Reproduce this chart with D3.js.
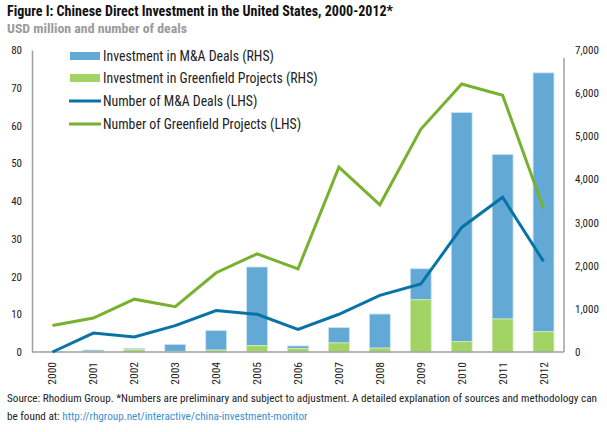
<!DOCTYPE html>
<html>
<head>
<meta charset="utf-8">
<script src="https://cdn.jsdelivr.net/npm/d3@7"></script>
<style>
  html, body { margin: 0; padding: 0; background: #fff; }
  svg text { font-family: "Liberation Sans Narrow", "Arial Narrow", "Roboto Condensed", "Liberation Sans", sans-serif; }
</style>
</head>
<body>
<svg id="chart" width="607" height="432"></svg>
<script>
const years = ["2000","2001","2002","2003","2004","2005","2006","2007","2008","2009","2010","2011","2012"];
// USD million (RHS)
const maInvestment = [0, 30, 30, 160, 450, 1825, 60, 355, 790, 720, 5310, 3815, 6000];
const greenfieldInvestment = [10, 15, 55, 15, 45, 145, 80, 210, 90, 1210, 240, 765, 470];
// number of deals (LHS)
const maDeals = [0, 5, 4, 7, 11, 10, 6, 10, 15, 18, 33, 41, 24];
const greenfieldDeals = [7, 9, 14, 12, 21, 26, 22, 49, 39, 59, 71, 68, 38];
const leftTicks = [0, 10, 20, 30, 40, 50, 60, 70, 80];
const rightTicks = [0, 1000, 2000, 3000, 4000, 5000, 6000, 7000];
const legendLabels = ["Investment in M&A Deals (RHS)", "Investment in Greenfield Projects (RHS)", "Number of M&A Deals (LHS)", "Number of Greenfield Projects (LHS)"];

const C = { maBar: "#62a9d6", gfBar: "#a1d465", maLine: "#0873a7", gfLine: "#78b12e", axis: "#a0a0a0" };

const svg = d3.select("#chart");
const pL = 32, pR = 564, pT = 50, pB = 352;

const x = d3.scaleBand().domain(years).range([pL, pR]).paddingInner(0.49).paddingOuter(0.245);
const yL = d3.scaleLinear().domain([0, 80]).range([pB, pT]);
const yR = d3.scaleLinear().domain([0, 7000]).range([pB, pT]);

// Title
svg.append("text").attr("x", 7).attr("y", 16).attr("font-size", 15).attr("font-weight", "bold").attr("fill", "#111")
  .attr("textLength", 386).attr("lengthAdjust", "spacingAndGlyphs")
  .text("Figure I: Chinese Direct Investment in the United States, 2000-2012*");
svg.append("text").attr("x", 7).attr("y", 33).attr("font-size", 13).attr("font-weight", "bold").attr("fill", "#9a9a9a")
  .attr("textLength", 180).attr("lengthAdjust", "spacingAndGlyphs")
  .text("USD million and number of deals");

// Bars (stacked: greenfield bottom, M&A top)
const bars = svg.append("g");
years.forEach((yr, i) => {
  const g0 = greenfieldInvestment[i], m = maInvestment[i];
  bars.append("rect").attr("x", x(yr)).attr("width", x.bandwidth())
    .attr("y", yR(g0 + m)).attr("height", yR(g0) - yR(g0 + m))
    .attr("fill", C.maBar).attr("stroke", "#c9e2f2").attr("stroke-width", 0.8);
  bars.append("rect").attr("x", x(yr)).attr("width", x.bandwidth())
    .attr("y", yR(g0)).attr("height", yR(0) - yR(g0))
    .attr("fill", C.gfBar).attr("stroke", "#d3ecb8").attr("stroke-width", 0.8);
});

// Axes
const axL = svg.append("g").attr("transform", `translate(${pL},0)`)
  .call(d3.axisLeft(yL).tickValues(leftTicks).tickSize(0).tickPadding(10));
axL.select(".domain").attr("stroke", C.axis).attr("stroke-width", 1.5);
axL.selectAll("text").attr("font-size", 11).attr("fill", "#222");

const axR = svg.append("g").attr("transform", `translate(${pR},0)`)
  .call(d3.axisRight(yR).tickValues(rightTicks).tickSize(0).tickPadding(11).tickFormat(d3.format(",")));
axR.select(".domain").attr("stroke", C.axis).attr("stroke-width", 1.5).attr("d", `M0,${pT + 8}V${pB}`);
axR.selectAll("text").attr("font-size", 11).attr("fill", "#222");

const axB = svg.append("g").attr("transform", `translate(0,${pB})`)
  .call(d3.axisBottom(x).tickSize(0).tickPadding(0));
axB.select(".domain").attr("stroke", C.axis).attr("stroke-width", 1.5).attr("d", `M${pL},0H${pR}`);
axB.selectAll("text").attr("font-size", 11.5).attr("fill", "#222")
  .attr("transform", "rotate(-90)").attr("text-anchor", "end").attr("dy", "0.35em").attr("x", -10).attr("y", 0);

// Lines
const px = i => x(years[i]) + x.bandwidth() / 2;
const lineL = d3.line().x((d, i) => px(i)).y(d => yL(d));
svg.append("path").datum(greenfieldDeals).attr("d", lineL).attr("fill", "none")
  .attr("stroke", C.gfLine).attr("stroke-width", 3).attr("stroke-linejoin", "miter");
svg.append("path").datum(maDeals).attr("d", lineL).attr("fill", "none")
  .attr("stroke", C.maLine).attr("stroke-width", 3).attr("stroke-linejoin", "miter");

// Legend
const lg = svg.append("g");
const rowY = [56, 78, 101, 124];
legendLabels.forEach((lab, i) => {
  if (i < 2) {
    lg.append("rect").attr("x", 70).attr("y", rowY[i] - 4).attr("width", 30).attr("height", 8)
      .attr("fill", i === 0 ? C.maBar : C.gfBar);
  } else {
    lg.append("line").attr("x1", 69).attr("x2", 101).attr("y1", rowY[i]).attr("y2", rowY[i])
      .attr("stroke", i === 2 ? C.maLine : C.gfLine).attr("stroke-width", 3);
  }
  lg.append("text").attr("x", 103).attr("y", rowY[i]).attr("dy", "0.36em")
    .attr("font-size", 13.8).attr("fill", "#222").text(lab);
});

// Footer
svg.append("text").attr("x", 7).attr("y", 402).attr("font-size", 11.2).attr("fill", "#222")
  .text("Source: Rhodium Group. *Numbers are preliminary and subject to adjustment. A detailed explanation of sources and methodology can");
const f2 = svg.append("text").attr("x", 7).attr("y", 420).attr("font-size", 11.2).attr("fill", "#222");
f2.append("tspan").text("be found at: ");
f2.append("tspan").attr("fill", "#3a8fd0").text("http://rhgroup.net/interactive/china-investment-monitor");
</script>
</body>
</html>
